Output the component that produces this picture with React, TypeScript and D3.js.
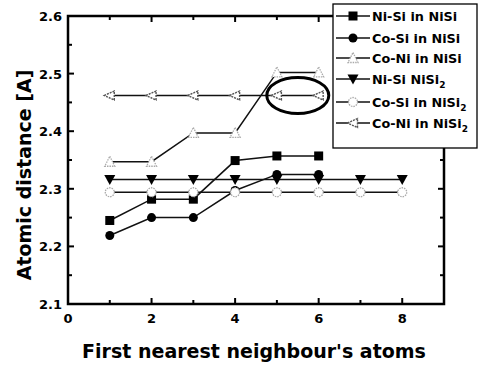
import React from "react";
import * as d3 from "d3";

const xs1to6 = [1, 2, 3, 4, 5, 6];
const xs1to8 = [1, 2, 3, 4, 5, 6, 7, 8];

const niSiNiSi = [2.245, 2.282, 2.282, 2.349, 2.357, 2.357];
const coSiNiSi = [2.219, 2.25, 2.25, 2.297, 2.325, 2.325];
const coNiNiSi = [2.347, 2.347, 2.397, 2.397, 2.502, 2.502];
const niSiNiSi2 = [2.316, 2.316, 2.316, 2.316, 2.316, 2.316, 2.316, 2.316];
const coSiNiSi2 = [2.294, 2.294, 2.294, 2.294, 2.294, 2.294, 2.294, 2.294];
const coNiNiSi2 = [2.462, 2.462, 2.462, 2.462, 2.462, 2.462];

const xTicks = [0, 2, 4, 6, 8];
const yTicks = [2.1, 2.2, 2.3, 2.4, 2.5, 2.6];

type Series = { name: string; sub?: string; xs: number[]; ys: number[]; marker: string; color: string };

const series: Series[] = [
  { name: "Ni-Si in NiSi", xs: xs1to6, ys: niSiNiSi, marker: "square", color: "#000" },
  { name: "Co-Si in NiSi", xs: xs1to6, ys: coSiNiSi, marker: "circle", color: "#000" },
  { name: "Co-Ni in NiSi", xs: xs1to6, ys: coNiNiSi, marker: "triUp", color: "#aaa" },
  { name: "Ni-Si NiSi", sub: "2", xs: xs1to8, ys: niSiNiSi2, marker: "triDown", color: "#000" },
  { name: "Co-Si in NiSi", sub: "2", xs: xs1to8, ys: coSiNiSi2, marker: "circleOpen", color: "#aaa" },
  { name: "Co-Ni in NiSi", sub: "2", xs: xs1to6, ys: coNiNiSi2, marker: "triLeft", color: "#555" },
];

const left = 68, right = 444, top = 16, bottom = 304;
const x = d3.scaleLinear().domain([0, 9]).range([left, right]);
const y = d3.scaleLinear().domain([2.1, 2.6]).range([bottom, top]);

const Marker = ({ kind, cx, cy, color }: { kind: string; cx: number; cy: number; color: string }) => {
  const s = 4.5;
  switch (kind) {
    case "square":
      return <rect x={cx - s} y={cy - s} width={2 * s} height={2 * s} fill={color} />;
    case "circle":
      return <circle cx={cx} cy={cy} r={s} fill={color} />;
    case "circleOpen":
      return <circle cx={cx} cy={cy} r={s} fill="#fff" stroke={color} strokeWidth={1.3} strokeDasharray="1.5 1" />;
    case "triUp":
      return <path d={`M${cx},${cy - s - 1}L${cx + s + 0.5},${cy + s}L${cx - s - 0.5},${cy + s}Z`} fill="#fff" stroke={color} strokeWidth={1.3} strokeDasharray="1.5 1" />;
    case "triDown":
      return <path d={`M${cx - s - 1},${cy - s}L${cx + s + 1},${cy - s}L${cx},${cy + s + 1}Z`} fill={color} />;
    case "triLeft":
      return <path d={`M${cx - s - 1},${cy}L${cx + s},${cy - s}L${cx + s},${cy + s}Z`} fill="#fff" stroke={color} strokeWidth={1.4} strokeDasharray="2 1" />;
  }
  return null;
};

export default function App() {
  const line = d3.line<[number, number]>().x(d => x(d[0])).y(d => y(d[1]));
  const minorY = d3.range(2.15, 2.6, 0.1);
  const font = "'DejaVu Sans', Verdana, sans-serif";
  const legendY = [16, 38, 58, 79, 102, 123];
  return (
    <svg width={478} height={366} style={{ position: "absolute", left: 0, top: 0, background: "#fff" }} fontFamily={font}>
      {/* ticks */}
      {d3.range(1, 9).map(v => (
        <g key={"xt" + v}>
          <line x1={x(v)} x2={x(v)} y1={bottom} y2={bottom - (v % 2 === 0 ? 6 : 4)} stroke="#000" strokeWidth={2} />
          <line x1={x(v)} x2={x(v)} y1={top} y2={top + (v % 2 === 0 ? 6 : 4)} stroke="#000" strokeWidth={2} />
        </g>
      ))}
      {yTicks.concat(minorY).map(v => {
        const major = yTicks.some(t => Math.abs(t - v) < 1e-6);
        return (
          <g key={"yt" + v}>
            <line x1={left} x2={left + (major ? 6 : 4)} y1={y(v)} y2={y(v)} stroke="#000" strokeWidth={2} />
            <line x1={right} x2={right - (major ? 6 : 4)} y1={y(v)} y2={y(v)} stroke="#000" strokeWidth={2} />
          </g>
        );
      })}
      <rect x={left} y={top} width={right - left} height={bottom - top} fill="none" stroke="#000" strokeWidth={2.5} />
      {xTicks.map(v => (
        <text key={"xl" + v} x={x(v)} y={323} textAnchor="middle" fontSize={13} fontWeight="bold">{v}</text>
      ))}
      {yTicks.map(v => (
        <text key={"yl" + v} x={62} y={y(v) + 5} textAnchor="end" fontSize={13} fontWeight="bold">{v.toFixed(1)}</text>
      ))}
      <text x={254} y={358} textAnchor="middle" fontSize={19} fontWeight="bold">First nearest neighbour's atoms</text>
      <text transform={`translate(31,175) rotate(-90)`} textAnchor="middle" fontSize={19} fontWeight="bold">Atomic distance [A]</text>
      {/* series */}
      {series.map((s, i) => (
        <g key={"s" + i}>
          <path d={line(s.xs.map((v, j) => [v, s.ys[j]] as [number, number])) || ""} fill="none" stroke="#111" strokeWidth={1.5} />
          {s.xs.map((v, j) => (
            <Marker key={j} kind={s.marker} cx={x(v)} cy={y(s.ys[j])} color={s.color} />
          ))}
        </g>
      ))}
      <ellipse cx={x(5.5)} cy={y(2.462)} rx={31} ry={18} fill="none" stroke="#000" strokeWidth={3} />
      {/* legend */}
      <rect x={333} y={4} width={144} height={144} fill="#fff" stroke="#000" strokeWidth={1.3} />
      {series.map((s, i) => (
        <g key={"lg" + i}>
          <line x1={336} x2={370} y1={legendY[i]} y2={legendY[i]} stroke="#111" strokeWidth={1.4} />
          <Marker kind={s.marker} cx={353} cy={legendY[i]} color={s.color} />
          <text x={372} y={legendY[i] + 5} fontSize={12.8} fontWeight="bold">
            {s.name}
            {s.sub && <tspan dy={4} fontSize={9}>{s.sub}</tspan>}
          </text>
        </g>
      ))}
    </svg>
  );
}
